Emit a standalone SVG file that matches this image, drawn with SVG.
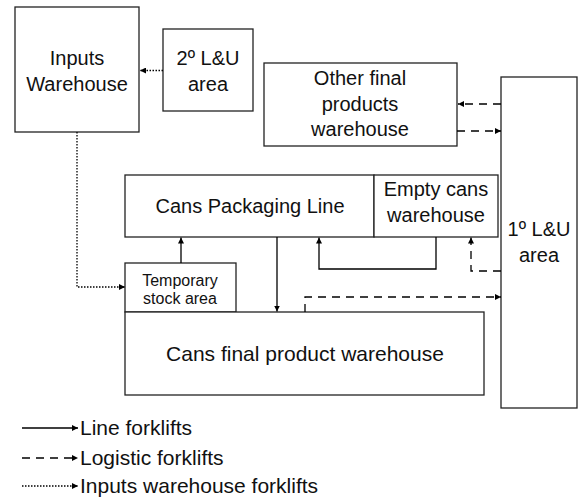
<svg xmlns="http://www.w3.org/2000/svg" width="581" height="497" viewBox="0 0 581 497">
<style>
.box{fill:#fff;stroke:#222;stroke-width:1.3}
.t{font-family:"Liberation Sans",Arial,sans-serif;font-size:20px;fill:#111;text-anchor:middle}
.s{font-size:16px}
.l{text-anchor:start;font-size:21px}
.c{fill:none;stroke:#000;stroke-width:1.3}
.da{stroke-dasharray:8,6}
.do{stroke-dasharray:1.5,1.5}
</style>
<defs>
<marker id="ah" viewBox="0 0 10 10" refX="10" refY="5" markerWidth="6" markerHeight="6" markerUnits="userSpaceOnUse" orient="auto">
<path d="M0,0 L10,5 L0,10 z" fill="#000"/>
</marker>
</defs>
<g id="inputs-warehouse"><rect class="box" x="15" y="7" width="124" height="125"/><text class="t" x="77" y="65">Inputs</text><text class="t" x="77" y="91">Warehouse</text></g>
<g id="lu2"><rect class="box" x="163" y="29" width="90" height="82"/><text class="t" x="208" y="65">2º L&amp;U</text><text class="t" x="208" y="91">area</text></g>
<g id="other-final"><rect class="box" x="264" y="63" width="193" height="83"/><text class="t" x="360" y="85">Other final</text><text class="t" x="360" y="111">products</text><text class="t" x="360" y="136">warehouse</text></g>
<g id="lu1"><rect class="box" x="501" y="77" width="76" height="331"/><text class="t" x="539" y="236">1º L&amp;U</text><text class="t" x="539" y="262">area</text></g>
<g id="packaging-line"><rect class="box" x="125" y="175" width="249" height="62"/><text class="t" x="250" y="213">Cans Packaging Line</text></g>
<g id="empty-cans"><rect class="box" x="374" y="175" width="124" height="62"/><text class="t" x="436" y="196">Empty cans</text><text class="t" x="436" y="222">warehouse</text></g>
<g id="temp-stock"><rect class="box" x="125" y="263" width="111" height="49"/><text class="t s" x="180" y="286">Temporary</text><text class="t s" x="180" y="304">stock area</text></g>
<g id="final-warehouse"><rect class="box" x="125" y="312" width="359" height="83"/><text class="t" x="305" y="361" style="font-size:21px">Cans final product warehouse</text></g>
<g id="connectors">
<path class="c do" d="M163,70.5 H140" marker-end="url(#ah)"/>
<path class="c do" d="M77,132 V287 H125" marker-end="url(#ah)"/>
<path class="c da" d="M501,104 H458" marker-end="url(#ah)"/>
<path class="c da" d="M457,131 H501" marker-end="url(#ah)"/>
<path class="c" d="M181,263 V237.5" marker-end="url(#ah)"/>
<path class="c" d="M277,237 V311.5" marker-end="url(#ah)"/>
<path class="c" d="M436,237 V269 H319 V237.5" marker-end="url(#ah)"/>
<path class="c da" d="M501,271 H471 V237.5" marker-end="url(#ah)"/>
<path class="c da" d="M305,312 V297 H501" marker-end="url(#ah)"/>
</g>
<g id="legend">
<path class="c" d="M22,428 H78" marker-end="url(#ah)"/>
<path class="c da" d="M22,458 H78" marker-end="url(#ah)"/>
<path class="c do" d="M22,486 H78" marker-end="url(#ah)"/>
<text class="t l" x="80" y="435">Line forklifts</text>
<text class="t l" x="80" y="465">Logistic forklifts</text>
<text class="t l" x="80" y="493">Inputs warehouse forklifts</text>
</g>
</svg>
